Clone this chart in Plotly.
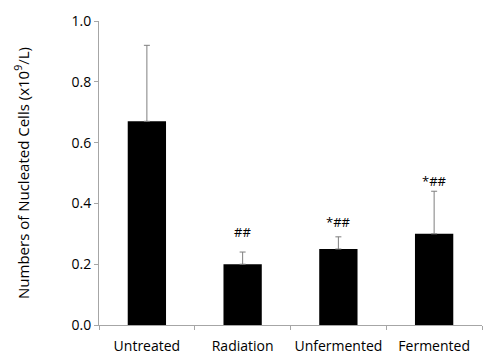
import plotly.graph_objects as go

categories = ["Untreated", "Radiation", "Unfermented", "Fermented"]
values = [0.67, 0.20, 0.25, 0.30]
errors = [0.25, 0.04, 0.04, 0.14]
marks = ["", "##", "*##", "*##"]
mark_y = [None, 0.305, 0.34, 0.475]
y_ticks = [0.0, 0.2, 0.4, 0.6, 0.8, 1.0]

font = "Open Sans, Liberation Sans, sans-serif"

fig = go.Figure()
fig.add_trace(go.Bar(
    x=categories, y=values,
    marker=dict(color="black", line=dict(width=0)),
    width=0.4,
    error_y=dict(type="data", array=errors, arrayminus=[0]*4, symmetric=False,
                 color="#7f7f7f", thickness=1, width=3),
))
for c, m, yy in zip(categories, marks, mark_y):
    if m:
        fig.add_annotation(x=c, y=yy, text=m, showarrow=False,
                           font=dict(family=font, size=13, color="black"))

fig.update_layout(
    width=500, height=363,
    margin=dict(l=99, r=18, t=21, b=38),
    plot_bgcolor="white", paper_bgcolor="white",
    showlegend=False,
    bargap=0.6,
    xaxis=dict(showline=True, linecolor="#a6a6a6", linewidth=1,
               ticks="outside", tickson="boundaries", ticklen=4, tickcolor="#a6a6a6",
               tickangle=0, automargin=False, ticklabelstandoff=8,
               tickfont=dict(family=font, size=14, color="black"),
               showgrid=False),
    yaxis=dict(range=[0, 1.0], tickvals=y_ticks, ticktext=[f"{v:.1f}" for v in y_ticks],
               showline=True, linecolor="#a6a6a6", linewidth=1,
               ticks="outside", ticklen=4, tickcolor="#a6a6a6",
               automargin=False,
               tickfont=dict(family=font, size=14, color="black"),
               showgrid=False, zeroline=False,
               title=dict(text="Numbers of Nucleated Cells (x10<sup>9</sup>/L)",
                          font=dict(family=font, size=15, color="black"), standoff=38)),
)
fig.write_html("out.html", config={"displayModeBar": False},
               post_script="document.body.style.margin='0';")
